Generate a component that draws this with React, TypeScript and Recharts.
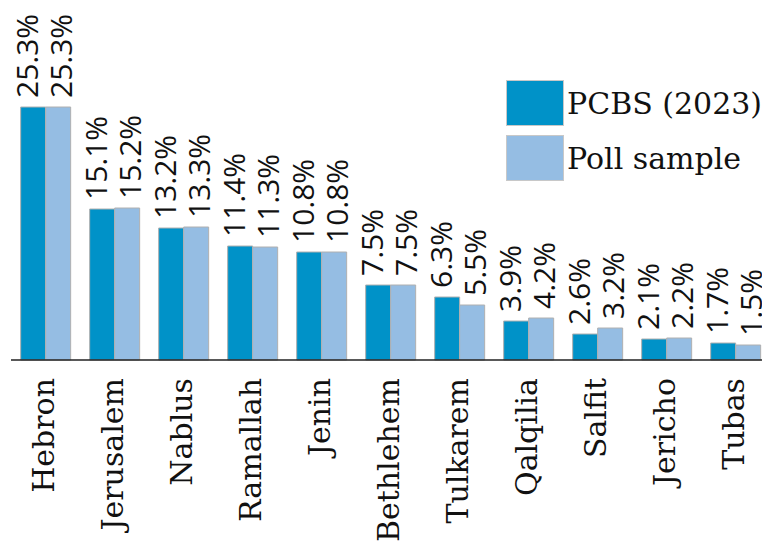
import { BarChart, Bar, XAxis, YAxis, LabelList } from "recharts";

const districts = ["Hebron", "Jerusalem", "Nablus", "Ramallah", "Jenin", "Bethlehem", "Tulkarem", "Qalqilia", "Salfit", "Jericho", "Tubas"];
const pcbs = [25.3, 15.1, 13.2, 11.4, 10.8, 7.5, 6.3, 3.9, 2.6, 2.1, 1.7];
const poll = [25.3, 15.2, 13.3, 11.3, 10.8, 7.5, 5.5, 4.2, 3.2, 2.2, 1.5];
const seriesNames = ["PCBS (2023)", "Poll sample"];

const DARK = "#0092c8";
const LIGHT = "#95bde3";
const SERIF = "'DejaVu Serif', serif";
const SANS = "'Open Sans', sans-serif";

const data = districts.map((name, i) => ({ name, pcbs: pcbs[i], poll: poll[i] }));

function valueLabel(shift: number) {
  return (props: any) => {
    const { x, y, width, value } = props;
    const bx = x + width / 2 + shift + 10;
    const by = y - 9;
    return (
      <text
        x={bx}
        y={by}
        transform={`rotate(-90, ${bx}, ${by})`}
        textAnchor="start"
        fontFamily={SANS}
        fontSize={30}
        fill="#111"
      >
        {value.toFixed(1)}%
      </text>
    );
  };
}

function Tick(props: any) {
  const { x, y, payload } = props;
  const tx = x + 8;
  const ty = y + 10;
  return (
    <text
      x={tx}
      y={ty}
      transform={`rotate(-90, ${tx}, ${ty})`}
      textAnchor="end"
      fontFamily={SERIF}
      fontSize={30}
      fill="#111"
    >
      {payload.value}
    </text>
  );
}

function LegendBox() {
  const colors = [DARK, LIGHT];
  return (
    <div style={{ position: "absolute", left: 506, top: 80 }}>
      {seriesNames.map((label, i) => (
        <div key={label} style={{ display: "flex", alignItems: "center", marginBottom: 9 }}>
          <div style={{ width: 56, height: 44, background: colors[i], border: "1px solid #c8c8c8" }} />
          <span style={{ fontFamily: SERIF, fontSize: 30, color: "#111", marginLeft: 3, whiteSpace: "nowrap" }}>{label}</span>
        </div>
      ))}
    </div>
  );
}

export default function App() {
  return (
    <div style={{ position: "relative", width: 770, height: 549, margin: -8 }}>
      <BarChart
        width={770}
        height={549}
        data={data}
        margin={{ top: 10, right: 0, bottom: 0, left: 11 }}
        barCategoryGap="14%"
        barGap={0}
        style={{ overflow: "visible" }}
      >
        <YAxis hide domain={[0, 35]} />
        <XAxis
          dataKey="name"
          interval={0}
          height={189}
          tickLine={false}
          axisLine={{ stroke: "#222", strokeWidth: 1.5 }}
          tick={<Tick />}
        />
        <Bar dataKey="pcbs" name={seriesNames[0]} fill={DARK} stroke="#b0b0b0" strokeWidth={1} isAnimationActive={false}>
          <LabelList dataKey="pcbs" content={valueLabel(-5)} />
        </Bar>
        <Bar dataKey="poll" name={seriesNames[1]} fill={LIGHT} stroke="#b0b0b0" strokeWidth={1} isAnimationActive={false}>
          <LabelList dataKey="poll" content={valueLabel(3.5)} />
        </Bar>
      </BarChart>
      <LegendBox />
    </div>
  );
}
